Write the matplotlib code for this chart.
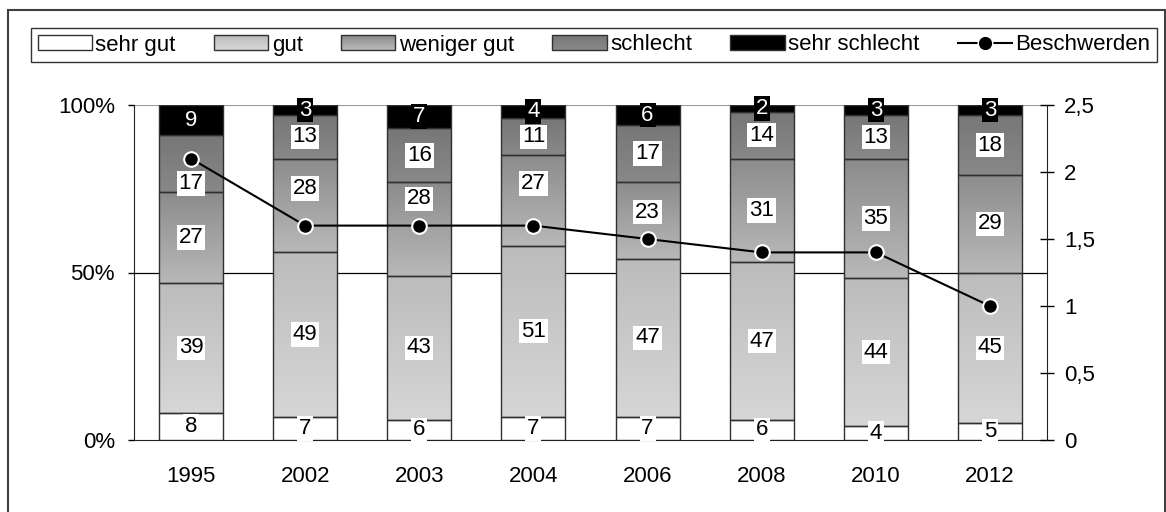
import numpy as np
import matplotlib
matplotlib.use('Agg')
import matplotlib.pyplot as plt
from matplotlib.colors import LinearSegmentedColormap, to_rgb
from matplotlib.patches import Rectangle
from matplotlib.lines import Line2D
from matplotlib.legend_handler import HandlerBase

plt.rcParams['font.family'] = ['Liberation Sans', 'DejaVu Sans']

years = ['1995', '2002', '2003', '2004', '2006', '2008', '2010', '2012']
sehr_gut = [8, 7, 6, 7, 7, 6, 4, 5]
gut = [39, 49, 43, 51, 47, 47, 44, 45]
weniger_gut = [27, 28, 28, 27, 23, 31, 35, 29]
schlecht = [17, 13, 16, 11, 17, 14, 13, 18]
sehr_schlecht = [9, 3, 7, 4, 6, 2, 3, 3]
beschwerden = [2.1, 1.6, 1.6, 1.6, 1.5, 1.4, 1.4, 1.0]

names = ['sehr gut', 'gut', 'weniger gut', 'schlecht', 'sehr schlecht']
# a few labels were moved by hand in the original (year index, series index) -> %-points
label_nudge = {(0, 3): -6, (1, 2): 5, (2, 2): 9, (3, 2): 5, (4, 2): 2.5}

# gradient colours (top, bottom) of each segment
fills = [('#ffffff', '#ffffff'), ('#bcbcbc', '#d6d6d6'), ('#8c8c8c', '#b8b8b8'),
         ('#777777', '#888888'), ('#000000', '#000000')]

W, H = 1166, 512
fig = plt.figure(figsize=(W / 100, H / 100), dpi=100)
ax = fig.add_axes([134 / W, 1 - 440 / H, (1047 - 134) / W, (440 - 105) / H])

data = np.array([sehr_gut, gut, weniger_gut, schlecht, sehr_schlecht], dtype=float)
pct = data / data.sum(axis=0) * 100
x = np.arange(len(years))
bw = 0.56

bottom = np.zeros(len(years))
for i in range(len(names)):
    top_c, bot_c = fills[i]
    solid = top_c == bot_c
    bars = ax.bar(x, pct[i], bw, bottom=bottom, facecolor=top_c if solid else 'none',
                  edgecolor='#303030', linewidth=1, zorder=3)
    if not solid:
        cmap = LinearSegmentedColormap.from_list('g%d' % i, [top_c, bot_c])
        for b in bars:
            x0, y0 = b.get_xy()
            ax.imshow(np.linspace(0, 1, 100).reshape(-1, 1), cmap=cmap, origin='upper',
                      extent=(x0, x0 + b.get_width(), y0, y0 + b.get_height()),
                      aspect='auto', zorder=2, interpolation='bilinear')
    for j in range(len(years)):
        yy = bottom[j] + pct[i][j] / 2 + label_nudge.get((j, i), 0)
        dark = i == 4
        ax.text(x[j], yy, '%d' % data[i][j], ha='center', va='center', fontsize=16,
                color='white' if dark else 'black', zorder=6,
                bbox=dict(boxstyle='square,pad=0.08', fc='black' if dark else 'white', ec='none'))
    bottom += pct[i]

ax.axhline(50, color='black', lw=0.9, zorder=1)
ax.axhline(100, color='#999999', lw=1.5, zorder=1)
ax.set_xlim(-0.5, len(years) - 0.5)
ax.set_ylim(0, 100)
ax.set_yticks([0, 50, 100], ['0%', '50%', '100%'])
ax.set_xticks(x, years)
ax.tick_params(axis='x', length=0, pad=19, labelsize=16)
ax.tick_params(axis='y', direction='out', length=4.3, width=1, pad=9.4, labelsize=16)
for s in ['top', 'right']:
    ax.spines[s].set_visible(False)
for s in ['left', 'bottom']:
    ax.spines[s].set_color('#202020')

ax2 = ax.twinx()
ax2.plot(x, beschwerden, color='black', lw=1.5, marker='o', ms=10.5,
         mfc='black', mec='white', mew=1.5, zorder=5, clip_on=False)
ax2.set_ylim(0, 2.5)
ticks2 = [0, 0.5, 1, 1.5, 2, 2.5]
ax2.set_yticks(ticks2, [('%g' % t).replace('.', ',') for t in ticks2])
ax2.tick_params(axis='y', direction='inout', length=9.4, width=1, pad=7.5, labelsize=16)
for s in ['top', 'left', 'bottom']:
    ax2.spines[s].set_visible(False)
ax2.spines['right'].set_color('#202020')


class GradientHandler(HandlerBase):
    def __init__(self, top, bot):
        super().__init__()
        self.top = np.array(to_rgb(top))
        self.bot = np.array(to_rgb(bot))

    def create_artists(self, legend, orig_handle, xdescent, ydescent, width, height, fontsize, trans):
        arts = []
        n = 12
        for k in range(n):
            c = self.top + (self.bot - self.top) * k / (n - 1)
            y = -ydescent + height * (1 - (k + 1) / n)
            arts.append(Rectangle((-xdescent, y), width, height / n, fc=c, ec='none', transform=trans))
        arts.append(Rectangle((-xdescent, -ydescent), width, height, fc='none', ec='#303030',
                              lw=1, transform=trans))
        return arts


handles = []
hmap = {}
for i in range(len(names)):
    h = Rectangle((0, 0), 1, 1)
    handles.append(h)
    hmap[h] = GradientHandler(*fills[i])
handles.append(Line2D([], [], color='black', lw=1.5, marker='o', ms=10.5, mfc='black', mec='white'))

leg = fig.legend(handles, names + ['Beschwerden'], handler_map=hmap, loc='center',
                 bbox_to_anchor=(31 / W, 1 - 64 / H, 1126 / W, 38 / H), ncol=6, mode='expand',
                 frameon=True, fancybox=False, edgecolor='black', borderpad=0.3,
                 handlelength=2.45, handleheight=0.65, handletextpad=0.15, fontsize=16,
                 borderaxespad=0)
leg.get_frame().set_linewidth(1.0)

fig.patches.append(Rectangle((8 / W, -0.1), (1164.5 - 8) / W, 1.1 - 10 / H, transform=fig.transFigure,
                             fill=False, ec='#404040', lw=1.5))

fig.savefig('out.png', dpi=100)
